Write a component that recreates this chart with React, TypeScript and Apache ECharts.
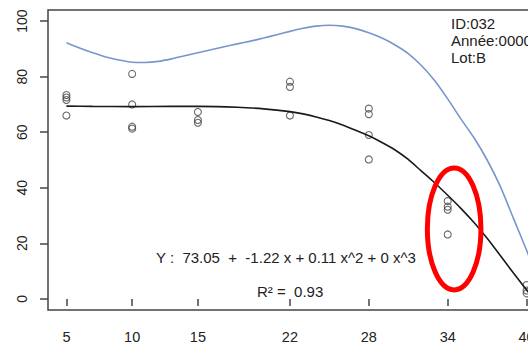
import React, { useEffect, useRef } from "react";
import * as echarts from "echarts";

// Axis ticks
const xTicks = [5, 10, 15, 22, 28, 34, 40];
const yTicks = [0, 20, 40, 60, 80, 100];

// Observations
const obsX = [5, 5, 5, 5, 10, 10, 10, 10, 15, 15, 15, 22, 22, 22, 28, 28, 28, 28, 34, 34, 34, 34, 40, 40, 40];
const obsY = [73.4, 72.5, 71.6, 66, 81, 70, 62, 61.3, 67.3, 64.4, 63.4, 78.2, 76.3, 66, 68.5, 66.5, 59, 50.2, 35.2, 33.2, 32.1, 23.2, 5, 3, 2];

// Fitted curve (black)
const fitX = [5, 7, 10, 13, 15, 18, 20, 22, 23, 24, 25, 26, 27, 28, 29, 30, 31, 32, 33, 34, 35, 36, 37, 38, 39, 40, 40.4];
const fitY = [69.4, 69.3, 69.2, 69.3, 69.3, 69.0, 68.4, 67.4, 66.6, 65.5, 64.2, 62.6, 60.7, 58.7, 56.3, 53.6, 50.2, 46.0, 41.8, 37.3, 32.6, 27.5, 21.8, 15.6, 9.3, 3.2, 0.8];

// Upper curve (blue)
const upX = [5, 6, 7, 8, 9, 10, 11, 12, 13, 14, 15, 16, 17, 18, 19, 20, 21, 22, 23, 24, 25, 26, 27, 28, 29, 30, 31, 32, 33, 34, 35, 36, 37, 38, 39, 40, 41, 41.4];
const upY = [92.2, 90.3, 88.6, 87.1, 86.0, 85.2, 85.1, 85.5, 86.4, 87.5, 88.6, 89.7, 90.8, 91.8, 92.8, 93.9, 95.1, 96.3, 97.4, 98.2, 98.5, 98.2, 97.3, 95.8, 93.9, 91.4, 88.3, 84.0, 78.6, 72.0, 64.8, 58.0, 50.0, 40.5, 29.0, 17.5, 5.5, 0.5];

// Highlight ellipse centre (x, y in data units)
const ellipseCenter = [34.49, 25.2];

// Annotations
const equationText = "Y :  73.05  +  -1.22 x + 0.11 x^2 + 0 x^3";
const r2Text = "R² =  0.93";
const infoLines = ["ID:032", "Année:0000", "Lot:B"];

const FONT = "'Liberation Sans', Arial, sans-serif";

export default function App() {
  const ref = useRef<HTMLDivElement>(null);

  useEffect(() => {
    if (!ref.current) return;
    const chart = echarts.init(ref.current, undefined, { renderer: "svg" });
    const pairs = (xs: number[], ys: number[]) => xs.map((x, i) => [x, ys[i]]);

    chart.setOption({
      animation: false,
      backgroundColor: "#ffffff",
      textStyle: { fontFamily: FONT },
      grid: {
        left: 48,
        top: 10,
        width: 497,
        height: 304,
        show: true,
        borderColor: "#444",
        borderWidth: 1.5,
        backgroundColor: "transparent",
      },
      xAxis: {
        type: "value",
        min: 3.6,
        max: 41.4,
        axisLine: { show: false },
        splitLine: { show: false },
        axisTick: { show: true, inside: false, length: 7, customValues: xTicks, lineStyle: { color: "#444", width: 1.5 } },
        axisLabel: { customValues: xTicks, color: "#222", fontSize: 14.5, fontFamily: FONT, margin: 19 },
      },
      yAxis: {
        type: "value",
        min: -4,
        max: 104,
        axisLine: { show: false },
        splitLine: { show: false },
        axisTick: { show: true, inside: false, length: 8, customValues: yTicks, lineStyle: { color: "#444", width: 1.5 } },
        axisLabel: {
          customValues: yTicks,
          color: "#222",
          fontSize: 14,
          fontFamily: FONT,
          rotate: 90,
          align: "center",
          verticalAlign: "middle",
          margin: 26,
        },
      },
      series: [
        {
          type: "line",
          data: pairs(upX, upY),
          smooth: 0.2,
          showSymbol: false,
          symbol: "none",
          lineStyle: { color: "#7896cc", width: 1.6 },
          silent: true,
        },
        {
          type: "line",
          data: pairs(fitX, fitY),
          smooth: 0.2,
          showSymbol: false,
          symbol: "none",
          lineStyle: { color: "#1a1a1a", width: 1.6 },
          silent: true,
        },
        {
          type: "scatter",
          data: pairs(obsX, obsY),
          symbol: "circle",
          symbolSize: 7,
          itemStyle: { color: "rgba(0,0,0,0)", borderColor: "#444", borderWidth: 1.1 },
          silent: true,
        },
        {
          type: "custom",
          data: [ellipseCenter],
          clip: false,
          silent: true,
          z: 10,
          renderItem: (params: any, api: any) => {
            const c = api.coord([api.value(0), api.value(1)]);
            return {
              type: "ellipse",
              shape: { cx: c[0], cy: c[1], rx: 26.8, ry: 61 },
              style: { fill: "none", stroke: "#ff0000", lineWidth: 5 },
            };
          },
        },
      ],
      graphic: [
        {
          type: "text",
          left: 156,
          top: 250,
          style: { text: equationText, fontSize: 15, fontFamily: FONT, fill: "#222" },
        },
        {
          type: "text",
          left: 257,
          top: 284,
          style: { text: r2Text, fontSize: 15, fontFamily: FONT, fill: "#222" },
        },
        ...infoLines.map((t, i) => ({
          type: "text",
          left: 451,
          top: 16 + i * 17,
          style: { text: t, fontSize: 15, fontFamily: FONT, fill: "#222" },
        })),
      ],
    });
    return () => chart.dispose();
  }, []);

  return (
    <div
      style={{ position: "absolute", left: 0, top: 0, width: 528, height: 344, overflow: "hidden", background: "#fff" }}
    >
      <div ref={ref} style={{ position: "absolute", left: 0, top: 0, width: 570, height: 344 }} />
    </div>
  );
}
